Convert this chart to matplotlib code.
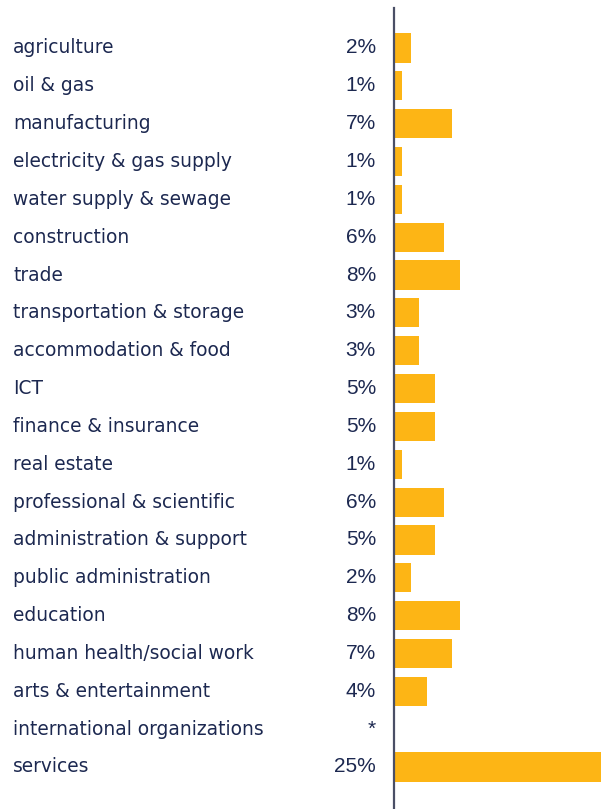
import numpy as np
import matplotlib
matplotlib.use("Agg")
import matplotlib.pyplot as plt
from matplotlib.transforms import blended_transform_factory

# share of firms by sector
sectors = ['agriculture', 'oil & gas', 'manufacturing', 'electricity & gas supply',
           'water supply & sewage', 'construction', 'trade', 'transportation & storage',
           'accommodation & food', 'ICT', 'finance & insurance', 'real estate',
           'professional & scientific', 'administration & support', 'public administration',
           'education', 'human health/social work', 'arts & entertainment',
           'international organizations', 'services']
shares = [2, 1, 7, 1, 1, 6, 8, 3, 3, 5, 5, 1, 6, 5, 2, 8, 7, 4, None, 25]

bar_color = '#FDB515'
text_color = '#1C2850'
axis_color = '#4A4F66'

W, H = 601, 809
fig = plt.figure(figsize=(W / 100, H / 100), dpi=100)
ax = fig.add_axes([394 / W, 0, 1 - 394 / W, 1 - 8 / H])

ypos = np.arange(len(sectors))
vals = [v if v is not None else 0 for v in shares]
ax.barh(ypos, vals, height=0.77, color=bar_color, left=0)

ax.set_xlim(0, 25)
ax.set_ylim(len(sectors) - 1 + 1.11, -1.057)
for s in ['top', 'right', 'bottom']:
    ax.spines[s].set_visible(False)
ax.spines['left'].set_color(axis_color)
ax.spines['left'].set_linewidth(1.6)
ax.set_xticks([])
ax.set_yticks([])

tr = blended_transform_factory(fig.transFigure, ax.transData)
for y, name, v in zip(ypos, sectors, shares):
    ax.text(13 / W, y, name, transform=tr, ha='left', va='center',
            fontsize=13.4, family='DejaVu Sans', color=text_color, clip_on=False)
    # missing value is flagged with an asterisk
    lab = f'{v}%' if v is not None else '*'
    ax.text(376 / W, y, lab, transform=tr, ha='right',
            va='center', fontsize=15, family='Liberation Sans', color=text_color,
            clip_on=False)

fig.savefig('out.png', dpi=100)
